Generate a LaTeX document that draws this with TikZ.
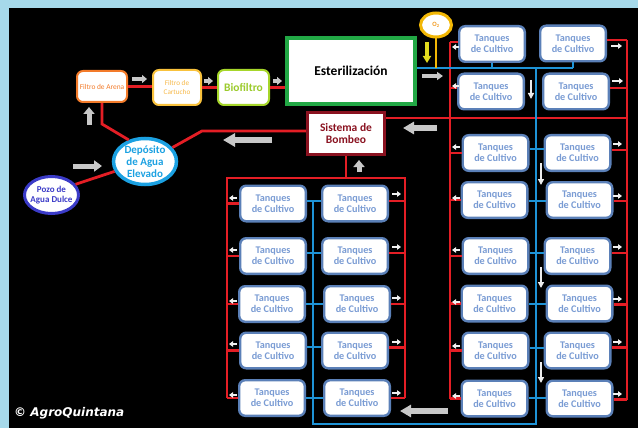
\documentclass[tikz,border=0pt]{standalone}
\usepackage{fontspec}
\setmainfont{Carlito}
\newfontfamily\agrofont{DejaVu Sans}
\usetikzlibrary{arrows.meta,shapes.geometric}
\definecolor{bgblue}{HTML}{A6D9EA}
\definecolor{pipered}{HTML}{E41E25}
\definecolor{pipeblue}{HTML}{1E93D6}
\definecolor{tankedge}{HTML}{5B80B8}
\definecolor{tanktext}{HTML}{7A9CD4}
\definecolor{arenaor}{HTML}{F37B2A}
\definecolor{cartyel}{HTML}{F9C23C}
\definecolor{carttext}{HTML}{F7B94A}
\definecolor{biogreen}{HTML}{A6D62A}
\definecolor{biotext}{HTML}{9CCB2C}
\definecolor{estgreen}{HTML}{22A845}
\definecolor{bombred}{HTML}{8A1220}
\definecolor{depblue}{HTML}{1BA1E2}
\definecolor{pozoblue}{HTML}{3B3BC8}
\definecolor{oxgold}{HTML}{F2B705}
\definecolor{oxtext}{HTML}{F29A1E}
\definecolor{arrgray}{HTML}{C8C8C8}
\definecolor{arryel}{HTML}{E3DC1E}
\begin{document}
\begin{tikzpicture}[x=1pt,y=-1pt,
  tank/.style={draw=tankedge, line width=2.4pt, fill=white, rounded corners=6pt,
    minimum width=65.6pt, minimum height=35.6pt, inner sep=0pt, align=center,
    text=tanktext, font=\fontsize{10.2}{11}\selectfont\bfseries},
  filt/.style={line width=2pt, fill=white, rounded corners=6pt, inner sep=0pt, align=center},
  rpipe/.style={draw=pipered, line width=2.8pt},
  bpipe/.style={draw=pipeblue, line width=2.2pt},
  garrow/.style n args={3}{draw=arrgray, line width=#1pt, -{Triangle[width=#2pt,length=#3pt]}},
  warrow/.style={draw=white!88!gray, line width=2pt, -{Triangle[width=5.5pt,length=4pt]}},
  darrow/.style={draw=white!85!gray, line width=2.5pt, -{Triangle[width=6pt,length=6pt]}},
  yarrow/.style={draw=arryel, line width=4pt, -{Triangle[width=8pt,length=7pt]}}
]
\useasboundingbox (0,0) rectangle (638,428);
\fill[bgblue] (0,0) rectangle (638,428);
\fill[black] (9,8) rectangle (638,428);

% ---------- treatment chain ----------
\node[filt, draw=arenaor, minimum width=50pt, minimum height=31pt, text=arenaor,
  font=\fontsize{7.4}{8}\selectfont] (arena) at (102,86.5) {Filtro de Arena};
\node[filt, draw=cartyel, minimum width=48pt, minimum height=35pt, text=carttext,
  font=\fontsize{7.2}{8.5}\selectfont] (cart) at (177,87.5) {Filtro de\\Cartucho};
\node[filt, draw=biogreen, minimum width=51pt, minimum height=35pt, text=biotext,
  font=\fontsize{11.5}{12}\selectfont\bfseries] (bio) at (243.5,87.5) {Biofiltro};
\node[draw=estgreen, line width=3.5pt, fill=white, minimum width=128pt, minimum height=66pt,
  inner sep=0pt, font=\fontsize{13.5}{14}\selectfont\bfseries] (ester) at (351,71) {Esterilización};
\node[draw=bombred, line width=3.5pt, fill=white, minimum width=77pt, minimum height=42pt,
  inner sep=0pt, align=center, text=bombred, font=\fontsize{11.5}{12.5}\selectfont\bfseries]
  (bombeo) at (346,133.5) {Sistema de\\Bombeo};
\node[ellipse, draw=depblue, line width=3.5pt, fill=white, minimum width=63pt, minimum height=46pt,
  inner sep=0pt] (dep) at (145,161.5) {};
\node[align=center, text=depblue, font=\fontsize{11}{11.8}\selectfont\bfseries, inner sep=0pt]
  (deptxt) at (dep.center) {Depósito\\de Agua\\Elevado};
\node[ellipse, draw=pozoblue, line width=3pt, fill=white, minimum width=54pt, minimum height=37pt,
  inner sep=0pt] (pozo) at (51.5,195) {};
\node[align=center, text=pozoblue, font=\fontsize{9}{10}\selectfont\bfseries, inner sep=0pt]
  (pozotxt) at (pozo.center) {Pozo de\\Agua Dulce};
\node[ellipse, draw=oxgold, line width=3pt, fill=white, minimum width=31pt, minimum height=24pt,
  inner sep=0pt, text=oxtext, font=\fontsize{6.5}{7}\selectfont\bfseries] (ox) at (436,25) {O\textsubscript{2}};

% ---------- tanks ----------
\node[tank] (tTL) at (492,44) {Tanques\\de Cultivo};
\node[tank] (tTR) at (573,43.5) {Tanques\\de Cultivo};
\node[tank] (tML) at (491,91.5) {Tanques\\de Cultivo};
\node[tank] (tMR) at (576,91.5) {Tanques\\de Cultivo};
\foreach \r/\y/\a/\b in {A/153/495.5/577.5, B/200/494.5/579.5, C/256/495.5/577.5,
                         D/303.5/494.5/579.5, E/350.5/495.5/577.5, F/398.5/494.5/579.5}{
  \node[tank] (r\r1) at (\a,\y) {Tanques\\de Cultivo};
  \node[tank] (r\r2) at (\b,\y) {Tanques\\de Cultivo};
}
\foreach \r/\y/\a/\b in {1/203.5/273/355, 2/256/273/355, 3/304/272/357,
                         4/350.5/273/355, 5/398/272/357}{
  \node[tank] (l\r1) at (\a,\y) {Tanques\\de Cultivo};
  \node[tank] (l\r2) at (\b,\y) {Tanques\\de Cultivo};
}

% ---------- red pipes ----------
\draw[rpipe] (arena.east) -- (arena.east -| cart.west);
\draw[rpipe] (cart.east) -- (bio.west);
\draw[rpipe] (bio.east) -- (bio.east -| ester.west);
\coordinate (k1) at (102,124);
\draw[rpipe] (arena.south) -- (k1) -- (dep.127);
\coordinate (k2) at (202,131);
\draw[rpipe] (dep.27) -- (k2) -- (k2 -| bombeo.west);
\draw[rpipe] (pozo.24) -- (dep.198);
\coordinate (rTop) at (627,118);
\draw[rpipe] (bombeo.east |- rTop) -- (rTop);

% right bank buses
\coordinate (lbTop) at (450,42);
\coordinate (rbTop) at (627,40);
\draw[rpipe] (lbTop) -- (rF1.west -| lbTop);
\draw[rpipe] (rbTop) -- ([yshift=-1pt]rF2.east -| rbTop);
\draw[rpipe] (tTL.west |- lbTop) -- (lbTop);
\draw[rpipe] ([yshift=3.5pt]tML.west) -- ([yshift=3.5pt]tML.west -| lbTop);
\draw[rpipe] (tTR.east |- rbTop) -- (rbTop);
\draw[rpipe] ([yshift=3.5pt]tMR.east) -- ([yshift=3.5pt]tMR.east -| rbTop);
\foreach \r/\s in {A/3,B/-1,C/3,D/-1,E/3,F/-1}{
  \draw[rpipe] (r\r1.west) -- (r\r1.west -| lbTop);
  \draw[rpipe] ([yshift=\s pt]r\r2.east) -- ([yshift=\s pt]r\r2.east -| rbTop);
}

% left bank frame
\coordinate (lfTL) at (227,178);
\coordinate (lfTR) at (405,178);
\draw[rpipe] (bombeo.south) -- (bombeo.south |- lfTL);
\draw[rpipe] (l51.west -| lfTL) -- (lfTL) -- (lfTR) -- (l52.east -| lfTR);
\foreach \r/\s in {1/2.5,2/3,3/0,4/3,5/0}{
  \draw[rpipe] (l\r1.west) -- (l\r1.west -| lfTL);
  \draw[rpipe] ([yshift=\s pt]l\r2.east) -- ([yshift=\s pt]l\r2.east -| lfTR);
}

% ---------- blue pipes ----------
\coordinate (bh) at (0,68);
\draw[bpipe] (ester.east |- bh) -- (tTR.south |- bh);
\draw[bpipe] (tTL.south) -- (tTL.south |- bh);
\draw[bpipe] (tTR.south) -- (tTR.south |- bh);
\coordinate (trT) at (536,68);
\coordinate (trB) at (536,424);
\coordinate (trL) at (313,424);
\draw[bpipe] (trT) -- (trB) -- (trL) -- ([yshift=2.5pt]l11.east -| trL);
\foreach \r/\s in {A/4,B/-1,C/3,D/-0.5,E/2.5,F/0.5}{
  \draw[bpipe] ([yshift=\s pt]r\r1.east) -- ([yshift=\s pt]r\r1.east -| r\r2.west);
}
\foreach \r/\s in {1/2.5,2/3,3/0,4/3.5,5/0}{
  \draw[bpipe] ([yshift=\s pt]l\r1.east) -- ([yshift=\s pt]l\r1.east -| l\r2.west);
}
\draw[draw=oxgold, line width=2.5pt] (ox.south) -- (ox.south |- bh);

% ---------- flow arrows ----------
\draw[garrow={5}{11}{7}] (89,125) -- (89,107);
\draw[garrow={5}{11}{8}] (73,166) -- (102,166);
\draw[garrow={6}{13}{12}] (272,140) -- (223,140);
\draw[garrow={4}{8}{5}] (132,79) -- (147,79);
\draw[garrow={4}{8}{5}] (204,81) -- (213,81);
\draw[garrow={4}{8}{5}] (273,81) -- (282,81);
\draw[garrow={3.5}{8}{6}] (422,76) -- (443,76);
\draw[garrow={6}{12}{11}] (437,128) -- (403,128);
\draw[garrow={5}{11}{7}] (359,172) -- (359,160);
\draw[garrow={6}{12}{11}] (448,411) -- (400,411);
\draw[yarrow] (427,42) -- (427,63);
\draw[darrow] (531,80) -- (531,99);
\draw[darrow] (541,163) -- (541,185);
\draw[darrow] (541,267) -- (541,288);
\draw[darrow] (541,362) -- (541,383);

% small arrows right bank
\draw[warrow] (459,47) -- (452,47);
\draw[warrow] (459,86) -- (452,86);
\draw[warrow] (611,46) -- (622,46);
\draw[warrow] (612,81) -- (623,81);
\foreach \y in {147,198,250,302,346,396}{ \draw[warrow] (460,\y) -- (452,\y); }
\foreach \y in {144,196,247,299,342,394}{ \draw[warrow] (613,\y) -- (622,\y); }
% small arrows left bank
\foreach \y in {198,250,301,344,395}{ \draw[warrow] (237,\y) -- (229,\y); }
\foreach \y in {194,247,298,342,393}{ \draw[warrow] (392,\y) -- (401,\y); }

% ---------- credit ----------
\node[anchor=west, text=white, inner sep=0pt, font=\agrofont\bfseries\itshape\fontsize{12}{13}\selectfont]
  (credit) at (14,413) {© AgroQuintana};
\end{tikzpicture}
\end{document}
